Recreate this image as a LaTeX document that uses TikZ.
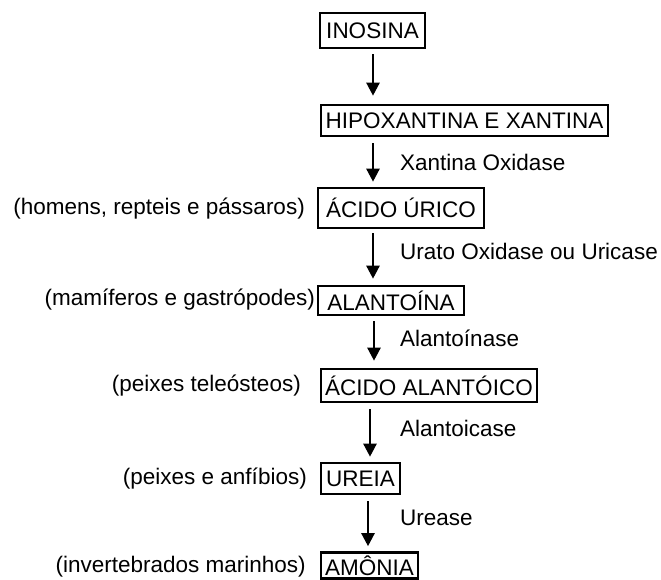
\documentclass[tikz,border=0pt]{standalone}
\usepackage{fontspec}
\setmainfont{Liberation Sans}
\usetikzlibrary{arrows.meta}
\begin{document}
\begin{tikzpicture}[x=1pt,y=-1pt,
 box/.style={draw, line width=2.6pt, inner sep=0pt, font=\fontsize{22.5}{26}\selectfont},
 lbl/.style={font=\fontsize{22.5}{26}\selectfont, inner sep=0pt},
 arr/.style={line width=2.4pt, -{Triangle[length=13pt,width=13pt]}}]
\useasboundingbox[fill=white] (0,0) rectangle (661,580);
% boxes
\node[box, minimum width=105pt, minimum height=35pt] (ino) at (372.5,30.5) {INOSINA};
\node[box, minimum width=287pt, minimum height=31pt] (hip) at (464.5,120.5) {HIPOXANTINA E XANTINA};
\node[box, minimum width=166pt, minimum height=40pt] (uri) at (401,208) {ÁCIDO ÚRICO};
\node[box, minimum width=146pt, minimum height=29pt] (ala) at (391,300.5) {ALANTOÍNA};
\node[box, minimum width=216pt, minimum height=33pt] (aac) at (429,385.5) {ÁCIDO ALANTÓICO};
\node[box, minimum width=79pt, minimum height=31pt] (ure) at (360.5,478.5) {UREIA};
\node[box, minimum width=97pt, minimum height=26pt] (amo) at (369.5,565.5) {AMÔNIA};
% arrows
\draw[arr, shorten <=5pt, shorten >=8pt] (373,0 |- ino.south) -- (373,0 |- hip.north);
\draw[arr, shorten <=6pt, shorten >=5pt] (373,0 |- hip.south) -- (373,0 |- uri.north);
\draw[arr, shorten <=4pt, shorten >=6pt] (373,0 |- uri.south) -- (373,0 |- ala.north);
\draw[arr, shorten <=5pt, shorten >=7pt] (374,0 |- ala.south) -- (374,0 |- aac.north);
\draw[arr, shorten <=6pt, shorten >=5pt] (370,0 |- aac.south) -- (370,0 |- ure.north);
\draw[arr, shorten <=6pt, shorten >=5pt] (368,0 |- ure.south) -- (368,0 |- amo.north);
% enzyme labels
\node[lbl, anchor=west] (e1) at (400,162) {Xantina Oxidase};
\node[lbl, anchor=west] (e2) at (400,251) {Urato Oxidase ou Uricase};
\node[lbl, anchor=west] (e3) at (400,338) {Alantoínase};
\node[lbl, anchor=west] (e4) at (400,428) {Alantoicase};
\node[lbl, anchor=west] (e5) at (400,518) {Urease};
% organism labels
\node[lbl, anchor=east] (o1) at (305,209) {(homens, repteis e pássaros)};
\node[lbl, anchor=east] (o2) at (315,300) {(mamíferos e gastrópodes)};
\node[lbl, anchor=east] (o3) at (301,386) {(peixes teleósteos)};
\node[lbl, anchor=east] (o4) at (307,479) {(peixes e anfíbios)};
\node[lbl, anchor=east] (o5) at (306,567) {(invertebrados marinhos)};
\end{tikzpicture}
\end{document}
